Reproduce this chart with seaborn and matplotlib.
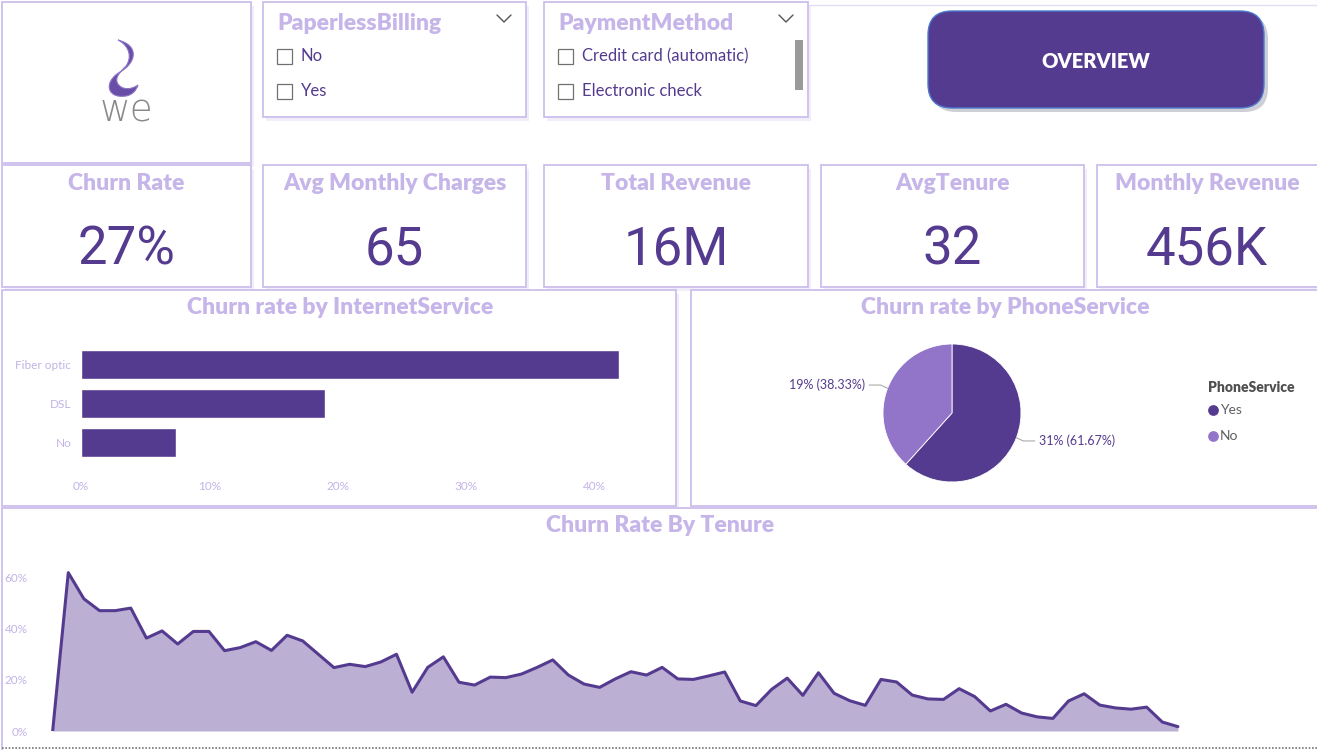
import matplotlib as mpl
import matplotlib.pyplot as plt
from matplotlib.patches import Rectangle, FancyBboxPatch, PathPatch
from matplotlib.path import Path
import seaborn as sns
import pandas as pd
import numpy as np

# ---- data ----
kpi_titles = ["Churn Rate", "Avg Monthly Charges", "Total Revenue", "AvgTenure", "Monthly Revenue"]
kpi_values = ["27%", "65", "16M", "32", "456K"]

paperless_items = ["No", "Yes"]
payment_items = ["Credit card (automatic)", "Electronic check"]

internet_service = ["Fiber optic", "DSL", "No"]
internet_churn = [41.9, 19.0, 7.4]

phone_service = ["Yes", "No"]
phone_churn = [31, 19]
phone_share = [61.67, 38.33]

tenure = list(range(73))
tenure_churn = [0.0, 61.7, 51.5, 46.9, 46.9, 47.9, 36.2, 39.0, 33.9, 38.8,
                38.8, 31.3, 32.5, 34.8, 31.4, 37.3, 35.1, 29.9, 24.7, 26.0,
                25.1, 26.9, 29.9, 15.1, 24.8, 28.9, 19.0, 17.9, 21.0, 20.8,
                22.2, 24.8, 27.7, 21.8, 18.3, 17.0, 20.3, 23.1, 21.8, 24.8,
                20.3, 20.1, 21.5, 23.0, 11.7, 9.9, 16.2, 20.6, 13.9, 22.7,
                14.7, 11.8, 10.0, 20.1, 19.1, 14.0, 12.5, 12.3, 16.5, 13.4,
                7.8, 10.4, 7.0, 5.5, 4.9, 11.7, 14.5, 10.1, 9.0, 8.5,
                9.3, 3.5, 1.7]

DARK = '#553B8F'
LIGHT = '#9275C8'
AREA = '#BBB0D4'
TITLE = '#C6B5E9'
TICK = '#C3B4E6'
BORDER = '#CDBFEC'
HEAVY = 'heavy'

sns.set_theme(style="white")
plt.rcParams['font.family'] = ['Lato', 'DejaVu Sans']

W, H = 1317, 750
fig = plt.figure(figsize=(13.17, 7.5), dpi=100)
fig.patch.set_facecolor('white')

bg = fig.add_axes([0, 0, 1, 1])
bg.set_xlim(0, W)
bg.set_ylim(H, 0)
bg.axis('off')


def px(x0, y0, x1, y1):
    return [x0 / W, 1 - y1 / H, (x1 - x0) / W, (y1 - y0) / H]


def card(x0, y0, x1, y1):
    bg.add_patch(Rectangle((x0 + 3, y0 + 4), x1 - x0, y1 - y0, fc='#F1EEF9', ec='none', zorder=1))
    bg.add_patch(Rectangle((x0, y0), x1 - x0, y1 - y0, fc='white', ec=BORDER, lw=1.3, zorder=2))


# faint top line
bg.plot([808, W], [5, 5], color='#E4DDF4', lw=1, zorder=1)

# logo card
card(2, 2, 251, 163)
logo = Path([(118, 40), (141, 46), (135, 64), (120, 72),
             (103, 82), (107, 99), (126, 96),
             (132, 95), (136, 91), (138, 85),
             (131, 90), (122, 90), (118, 84),
             (114, 78), (120, 72), (126, 66),
             (132, 58), (130, 46), (118, 40)],
            [Path.MOVETO] + [Path.CURVE4] * 18)
bg.add_patch(PathPatch(logo, fc='#6A4DA6', ec='#8C76C6', lw=0.8, zorder=3))
bg.text(126, 111, "we", ha='center', va='center', fontsize=27, color='#8A8A8A',
        family=['DejaVu Sans'], fontweight='light', zorder=3)

# slicers
for (x0, x1, title, items) in [(263, 526, "PaperlessBilling", paperless_items),
                               (544, 808, "PaymentMethod", payment_items)]:
    card(x0, 2, x1, 117)
    bg.text(x0 + 14, 23, title, ha='left', va='center', fontsize=16.5,
            fontweight=HEAVY, color=TITLE, zorder=3)
    bg.plot([x1 - 29, x1 - 22, x1 - 15], [15, 22, 15], color='#555555', lw=1, zorder=3)
    for k, item in enumerate(items):
        yy = 56 + 35 * k
        bg.add_patch(Rectangle((x0 + 14, yy - 7.5), 15, 15, fc='white', ec='#707070', lw=0.9, zorder=3))
        bg.text(x0 + 38, yy, item, ha='left', va='center', fontsize=12, color=DARK, zorder=3)
bg.add_patch(Rectangle((795, 40), 8, 50, fc='#9A9A9A', ec='none', zorder=3))

# overview button
bg.add_patch(FancyBboxPatch((932, 15), 336, 97, boxstyle="round,pad=0,rounding_size=24",
                            fc='#CFCFD6', ec='none', zorder=1))
bg.add_patch(FancyBboxPatch((928, 11), 336, 97, boxstyle="round,pad=0,rounding_size=24",
                            fc=DARK, ec='#4A7BD0', lw=1, zorder=2))
bg.text(1096, 61, "OVERVIEW", ha='center', va='center', fontsize=14.5,
        fontweight=HEAVY, color='white', zorder=3)

# KPI cards
kpi_x = [(2, 251), (263, 526), (544, 808), (821, 1084), (1097, 1320)]
for (x0, x1), t, v in zip(kpi_x, kpi_titles, kpi_values):
    card(x0, 165, x1, 287)
    cx = (x0 + x1) / 2 if x1 <= W else 1207
    bg.text(cx, 184, t, ha='center', va='center', fontsize=16.5, fontweight=HEAVY, color=TITLE, zorder=3)
    bg.text(cx, 250, v, ha='center', va='center', fontsize=38, color=DARK,
            family=['Roboto', 'DejaVu Sans'], zorder=3)

# chart panels
card(2, 290, 676, 506)
card(691, 290, 1320, 506)
card(2, 508, 1320, 752)
bg.text(340, 308, "Churn rate by InternetService", ha='center', va='center',
        fontsize=16.5, fontweight=HEAVY, color=TITLE, zorder=3)
bg.text(1005, 308, "Churn rate by PhoneService", ha='center', va='center',
        fontsize=16.5, fontweight=HEAVY, color=TITLE, zorder=3)
bg.text(660, 525, "Churn Rate By Tenure", ha='center', va='center',
        fontsize=16.5, fontweight=HEAVY, color=TITLE, zorder=3)
bg.plot([2, W], [748, 748], color='#777777', lw=1.2, ls=(0, (1, 1)), zorder=3)

# ---- bar chart ----
ax_bar = fig.add_axes(px(81, 345, 660, 475))
ax_bar.set_facecolor('none')
bar_df = pd.DataFrame({'service': internet_service, 'churn': internet_churn})
sns.barplot(data=bar_df, x='churn', y='service', color=DARK, width=0.74,
            saturation=1, ax=ax_bar)
ax_bar.set_xlim(0, 45.1)
ax_bar.set_ylim(2.83, -0.5)
ax_bar.set_xticks([0, 10, 20, 30, 40])
ax_bar.set_xticklabels([f"{t}%" for t in [0, 10, 20, 30, 40]])
ax_bar.set_xlabel("")
ax_bar.set_ylabel("")
ax_bar.tick_params(axis='both', colors=TICK, labelsize=8.5, length=0)
ax_bar.tick_params(axis='y', pad=7)
ax_bar.tick_params(axis='x', pad=4)
sns.despine(ax=ax_bar, left=True, bottom=True)

# ---- pie chart ----
ax_pie = fig.add_axes(px(883, 344, 1021, 482))
ax_pie.set_facecolor('none')
wedges, _ = ax_pie.pie(phone_share, colors=[DARK, LIGHT], startangle=90, counterclock=False,
                       wedgeprops=dict(edgecolor='white', linewidth=0.6))
ax_pie.set_xlim(-1, 1)
ax_pie.set_ylim(-1, 1)
for w, rate, share in zip(wedges, phone_churn, phone_share):
    mid = np.deg2rad((w.theta1 + w.theta2) / 2)
    cx, cy = np.cos(mid), np.sin(mid)
    side = np.sign(cx)
    ty = 1.13 * cy
    ax_pie.plot([cx, cx + side * 0.1, side * 1.2], [cy, ty, ty], color='#AAAAAA', lw=0.8, clip_on=False)
    ax_pie.text(side * 1.26, ty, f"{rate}% ({share:.2f}%)", ha='left' if side > 0 else 'right',
                va='center', fontsize=9, color=DARK, clip_on=False)

bg.text(1208, 388, "PhoneService", ha='left', va='center', fontsize=10, fontweight=HEAVY,
        color='#505050', zorder=3)
for k, (name, col) in enumerate(zip(phone_service, [DARK, LIGHT])):
    yy = 410 + 26 * k
    bg.scatter([1213], [yy], s=45, color=col, zorder=3)
    bg.text(1220, yy, name, ha='left', va='center', fontsize=10, color='#606060', zorder=3)

# ---- tenure area chart ----
ax_line = fig.add_axes(px(40, 556, 1317, 731))
ax_line.set_facecolor('none')
line_df = pd.DataFrame({'tenure': tenure, 'churn': tenure_churn})
ax_line.fill_between(line_df['tenure'], line_df['churn'], color=AREA, lw=0)
sns.lineplot(data=line_df, x='tenure', y='churn', color=DARK, lw=2.2, ax=ax_line)
ax_line.set_xlim(-0.81, 80.9)
ax_line.set_ylim(0, 68.2)
ax_line.set_yticks([0, 20, 40, 60])
ax_line.set_yticklabels([f"{t}%" for t in [0, 20, 40, 60]])
ax_line.set_xticks([])
ax_line.set_xlabel("")
ax_line.set_ylabel("")
ax_line.tick_params(axis='y', colors=TICK, labelsize=8.5, length=0, pad=9)
sns.despine(ax=ax_line, left=True, bottom=True)

bg.text(657, 718, "mostaql.com", ha='center', va='center', fontsize=17,
        color='#D9D2E8', alpha=0.6, zorder=5)

fig.savefig("out.png", dpi=100)
